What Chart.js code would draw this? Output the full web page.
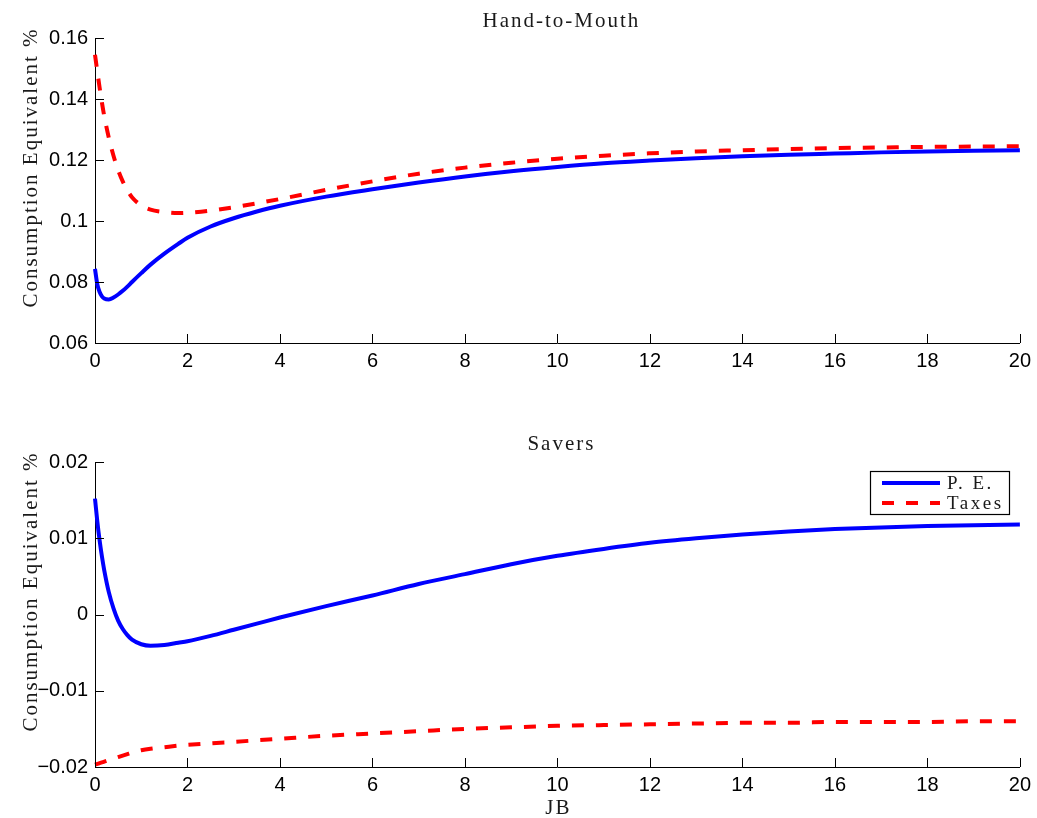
<!DOCTYPE html>
<html>
<head>
<meta charset="utf-8">
<script src="https://cdn.jsdelivr.net/npm/chart.js@4.4.1/dist/chart.umd.min.js"></script>
<style>
  body { margin: 0; background: #fff; }
  canvas { position: absolute; left: 0; }
</style>
</head>
<body>
<canvas id="htm" width="1037" height="409" style="top:0"></canvas>
<canvas id="savers" width="1037" height="409" style="top:409px"></canvas>
<script>
// horizon (JB) values, denser near zero where the curves bend
const jb = [0, 0.05, 0.1, 0.15, 0.2, 0.3, 0.4, 0.5, 0.6, 0.7, 0.8, 1, 1.2, 1.5, 1.8, 2, 2.5, 3, 3.5, 4,
            5, 6, 7, 8, 9, 10, 11, 12, 13, 14, 15, 16, 17, 18, 19, 20];

// Hand-to-Mouth panel
const htmPE = [0.0843, 0.0792, 0.0767, 0.0753, 0.0746, 0.0743, 0.0749, 0.0759, 0.0771, 0.0785, 0.0800, 0.0829,
               0.0857, 0.0893, 0.0925, 0.0945, 0.0982, 0.1009, 0.1031, 0.1050,
               0.1080, 0.1104, 0.1126, 0.1146, 0.1163, 0.1177, 0.1189, 0.1198, 0.1206, 0.1212,
               0.1217, 0.1221, 0.1225, 0.1228, 0.1230, 0.1232];
const htmTaxes = [0.1545, 0.1490, 0.1437, 0.1388, 0.1344, 0.1272, 0.1214, 0.1167, 0.1130, 0.1101, 0.1078, 0.1051,
                  0.1037, 0.1029, 0.1026, 0.1027, 0.1034, 0.1045, 0.1058, 0.1072,
                  0.1102, 0.1130, 0.1155, 0.1175, 0.1191, 0.1204, 0.1214, 0.1222, 0.1228, 0.1232,
                  0.1236, 0.1239, 0.1241, 0.1243, 0.1244, 0.1245];

// Savers panel
const savPE = [0.0152, 0.0122, 0.0097, 0.0076, 0.0058, 0.0029, 0.0008, -0.0008, -0.0019, -0.0027, -0.0033, -0.0039,
               -0.0041, -0.0040, -0.0037, -0.0035, -0.0028, -0.0020, -0.0012, -0.0004,
               0.0011, 0.0025, 0.0040, 0.0053, 0.0066, 0.0077, 0.0086, 0.0094, 0.0100, 0.0105,
               0.0109, 0.0112, 0.0114, 0.0116, 0.0117, 0.0118];
const savTaxes = [-0.0197, -0.0196, -0.0195, -0.0194, -0.0193, -0.0191, -0.0189, -0.0187, -0.0185, -0.0183, -0.0181, -0.0178,
                  -0.0176, -0.0174, -0.0172, -0.0171, -0.0169, -0.0167, -0.0165, -0.0163,
                  -0.0159, -0.0156, -0.0153, -0.0150, -0.0148, -0.0146, -0.0145, -0.0144, -0.0143, -0.0142,
                  -0.0142, -0.0141, -0.0141, -0.0141, -0.0140, -0.0140];

const seriesNames = ["P. E.", "Taxes"];
const yLabel = "Consumption Equivalent %";
const xLabel = "JB";

const sansFont = '"Liberation Sans", Arial, sans-serif';
const serifFont = '"Liberation Serif", "Times New Roman", serif';

// MATLAB look: inward ticks, spaced serif labels, boxed legend
const matlabPlugin = {
    id: "matlab",
    afterDraw(chart, args, opts) {
        const ctx = chart.ctx;
        const { left, right, top, bottom } = chart.chartArea;
        const sx = chart.scales.x, sy = chart.scales.y;
        ctx.save();
        ctx.strokeStyle = "#000";
        ctx.lineWidth = 1;
        ctx.beginPath();
        sy.ticks.forEach(t => {
            const py = Math.round(sy.getPixelForValue(t.value)) + 0.5;
            ctx.moveTo(left, py);
            ctx.lineTo(left + 9, py);
        });
        sx.ticks.forEach(t => {
            const px = Math.round(sx.getPixelForValue(t.value)) + 0.5;
            ctx.moveTo(px, bottom);
            ctx.lineTo(px, bottom - 9);
        });
        ctx.stroke();

        ctx.fillStyle = "#1a1a1a";
        ctx.font = "21px " + serifFont;
        ctx.letterSpacing = "2px";
        ctx.textAlign = "center";
        ctx.textBaseline = "alphabetic";
        ctx.fillText(opts.title, (left + right) / 2 + 4, opts.titleBaseline);

        ctx.save();
        ctx.translate(37, (top + bottom) / 2 - 23);
        ctx.rotate(-Math.PI / 2);
        ctx.fillText(yLabel, 0, 0);
        ctx.restore();

        if (opts.showXLabel) {
            ctx.fillText(xLabel, (left + right) / 2 + 1, opts.xLabelBaseline);
        }

        if (opts.showLegend) {
            const bx = 870, by = 62, bw = 139, bh = 43;
            ctx.fillStyle = "#fff";
            ctx.fillRect(bx, by, bw, bh);
            ctx.strokeStyle = "#000";
            ctx.lineWidth = 1.2;
            ctx.strokeRect(bx + 0.5, by + 0.5, bw, bh);
            ctx.font = "19px " + serifFont;
            ctx.letterSpacing = "2.5px";
            ctx.textAlign = "left";
            chart.data.datasets.forEach((ds, i) => {
                const ly = by + 12 + i * 20;
                ctx.beginPath();
                ctx.strokeStyle = ds.borderColor;
                ctx.lineWidth = ds.borderWidth;
                ctx.setLineDash(ds.borderDash || []);
                ctx.moveTo(bx + 12, ly);
                ctx.lineTo(bx + 70, ly);
                ctx.stroke();
                ctx.setLineDash([]);
                ctx.fillStyle = "#1a1a1a";
                ctx.fillText(ds.label, bx + 77, ly + 6);
            });
        }
        ctx.restore();
    }
};

function fmtTick(v) {
    return String(Math.round(v * 1000) / 1000).replace("-", "\u2212");
}

function makePanel(canvasId, peValues, taxValues, yMin, yMax, yStep, padTop, xHeight, matlabOpts) {
    const toPoints = vals => jb.map((x, i) => ({ x: x, y: vals[i] }));
    return new Chart(document.getElementById(canvasId), {
        type: "line",
        data: {
            datasets: [
                { label: seriesNames[0], data: toPoints(peValues), borderColor: "#0000ff", borderWidth: 4,
                  pointRadius: 0, cubicInterpolationMode: "monotone", clip: false },
                { label: seriesNames[1], data: toPoints(taxValues), borderColor: "#ff0000", borderWidth: 4,
                  borderDash: [12, 12], pointRadius: 0, cubicInterpolationMode: "monotone", clip: false }
            ]
        },
        plugins: [matlabPlugin],
        options: {
            responsive: false,
            animation: false,
            layout: { padding: { top: padTop, right: 17, left: 0, bottom: 0 } },
            plugins: {
                legend: { display: false },
                title: { display: false },
                tooltip: { enabled: false },
                matlab: matlabOpts
            },
            scales: {
                x: {
                    type: "linear", min: 0, max: 20,
                    grid: { display: true, drawOnChartArea: false, drawTicks: false },
                    border: { display: true, color: "#000", width: 1 },
                    ticks: { stepSize: 2, autoSkip: false, maxRotation: 0, padding: 6, color: "#000",
                             font: { family: sansFont, size: 20 } },
                    afterFit: s => { s.height = xHeight; }
                },
                y: {
                    type: "linear", min: yMin, max: yMax,
                    grid: { display: true, drawOnChartArea: false, drawTicks: false },
                    border: { display: true, color: "#000", width: 1 },
                    ticks: { stepSize: yStep, autoSkip: false, padding: 7, color: "#000",
                             font: { family: sansFont, size: 20 }, callback: fmtTick },
                    afterFit: s => { s.width = 95; }
                }
            }
        }
    });
}

makePanel("htm", htmPE, htmTaxes, 0.06, 0.16, 0.02, 38, 66,
          { title: "Hand-to-Mouth", titleBaseline: 27, showLegend: false, showXLabel: false });
makePanel("savers", savPE, savTaxes, -0.02, 0.02, 0.01, 53, 51,
          { title: "Savers", titleBaseline: 41, showLegend: true, showXLabel: true, xLabelBaseline: 405 });
</script>
</body>
</html>
